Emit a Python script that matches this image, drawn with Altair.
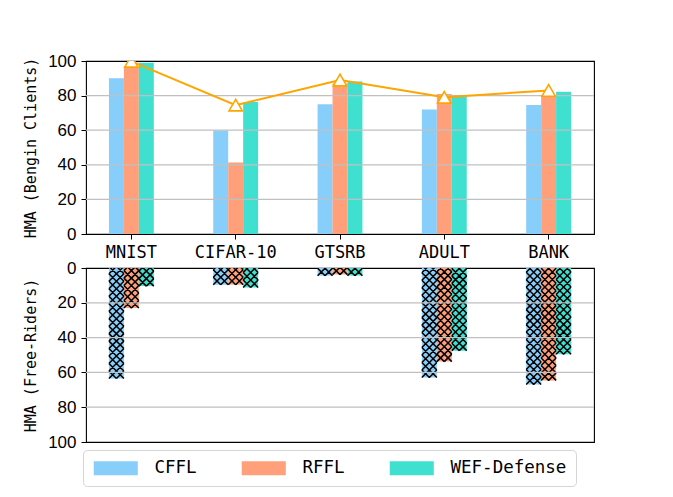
import altair as alt
import pandas as pd

datasets = ["MNIST", "CIFAR-10", "GTSRB", "ADULT", "BANK"]
methods = ["CFFL", "RFFL", "WEF-Defense"]
colors = ["#87CEFA", "#FFA07A", "#40E0D0"]

benign_cffl = [90.0, 59.8, 75.0, 72.0, 74.5]
benign_rffl = [96.3, 41.3, 87.0, 80.9, 79.3]
benign_wef = [99.0, 76.3, 88.2, 80.1, 82.2]
benign_line = [99.8, 74.5, 89.0, 79.0, 83.0]

free_cffl = [63.5, 9.6, 4.4, 62.9, 66.9]
free_rffl = [23.0, 9.6, 3.8, 53.8, 64.6]
free_wef = [10.4, 11.2, 4.4, 47.5, 49.6]

y_ticks = [0, 20, 40, 60, 80, 100]
grid_ticks = [20, 40, 60, 80]


def to_long(a, b, c):
    rows = []
    for m, vals in zip(methods, [a, b, c]):
        for d, v in zip(datasets, vals):
            rows.append({"dataset": d, "method": m, "value": v})
    return pd.DataFrame(rows)


benign = to_long(benign_cffl, benign_rffl, benign_wef)
free = to_long(free_cffl, free_rffl, free_wef)
line_df = pd.DataFrame({"dataset": datasets, "value": benign_line})
grid_df = pd.DataFrame({"tick": grid_ticks})

W, H1, H2 = 508, 173, 174
P_IN, P_OUT = 0.57, 0.22
BW = W / (len(datasets) - P_IN + 2 * P_OUT) * (1 - P_IN) / len(methods)
S = (BW / 2) / (H2 / 100.0)  # hatch cell height in data units

MONO = "DejaVu Sans Mono"
SANS = "Liberation Sans"
HATCH = "M-1,-0.5L0,0.5M0,-0.5L1,0.5M0,0.5L1,-0.5M-1,0.5L0,-0.5"
SWATCH = "M-1,-1L5.29,-1L5.29,1L-1,1Z"

x_scale = alt.Scale(domain=datasets, paddingInner=P_IN, paddingOuter=P_OUT)
xo_scale = alt.Scale(domain=methods, paddingInner=0, paddingOuter=0)
color_enc = alt.Color(
    "method:N",
    sort=methods,
    scale=alt.Scale(domain=methods, range=colors),
    legend=alt.Legend(
        title=None,
        orient="none",
        legendX=-3,
        legendY=389,
        direction="horizontal",
        columns=3,
        symbolType=SWATCH,
        symbolSize=196,
        symbolStrokeWidth=0,
        symbolOpacity=1,
        labelFont=MONO,
        labelFontSize=17.5,
        labelColor="black",
        labelOffset=45,
        labelLimit=0,
        columnPadding=43,
        padding=9,
        strokeColor="#d5d5d5",
        cornerRadius=4,
        fillColor="white",
    ),
)

y_axis = alt.Axis(
    values=y_ticks,
    tickCount=6,
    grid=False,
    domain=False,
    tickSize=5,
    tickColor="black",
    labelFont=SANS,
    labelFontSize=17,
    labelColor="black",
    labelPadding=5,
    labelOverlap=False,
    labelFlush=False,
    titleFont=MONO,
    titleFontSize=15,
    titleFontWeight="normal",
    titleColor="black",
    titlePadding=9,
)
x_axis = alt.Axis(
    labelAngle=0,
    domain=False,
    grid=False,
    tickSize=5,
    tickColor="black",
    labelFont=MONO,
    labelFontSize=17,
    labelColor="black",
    labelPadding=5,
)

T1 = "HMA (Bengin Clients)"
T2 = "HMA (Free-Riders)"

xo = alt.XOffset("method:N", sort=methods, scale=xo_scale)
y1_scale = alt.Scale(domain=[0, 100], nice=False, zero=True)


def xt():
    return alt.X("dataset:N", sort=datasets, scale=x_scale, title=None, axis=x_axis)


def y1(field):
    return alt.Y(field, scale=y1_scale, axis=y_axis, title=T1)


bars1 = alt.Chart(benign).mark_bar().encode(
    x=xt(), xOffset=xo, y=y1("value:Q"), color=color_enc
)
grid1 = alt.Chart(grid_df).mark_rule(color="#c0c0c0", strokeWidth=1.2).encode(
    y=y1("tick:Q")
)
line1 = alt.Chart(line_df).mark_line(color="#FFA500", strokeWidth=2).encode(
    x=xt(), y=y1("value:Q")
)
pts1 = alt.Chart(line_df).mark_point(
    shape="triangle-up", filled=True, fill="white", stroke="#FFA500",
    strokeWidth=1.6, size=180, opacity=1, clip=True,
).encode(x=xt(), y=y1("value:Q"))

top = alt.layer(bars1, grid1, line1, pts1).properties(width=W, height=H1)

y2_scale = alt.Scale(domain=[0, 100], nice=False, reverse=True)
x_bot = alt.X("dataset:N", sort=datasets, scale=x_scale, axis=None)


def y2(field):
    return alt.Y(field, scale=y2_scale, axis=y_axis, title=T2)


bars2 = alt.Chart(free).mark_bar(clip=True).encode(
    x=x_bot, xOffset=xo, y=y2("value:Q"), color=color_enc
)
hatch2 = (
    alt.Chart(free)
    .transform_calculate(k=f"sequence(0, ceil(datum.value / {S}) + 1)")
    .transform_flatten(["k"])
    .transform_calculate(yc=f"datum.value - {S} / 2 - datum.k * {S}")
    .mark_point(shape=HATCH, filled=False, size=BW * BW, strokeWidth=1.5,
                opacity=1, clip=True, color="black")
    .encode(x=x_bot, xOffset=xo, y=y2("yc:Q"))
)
grid2 = alt.Chart(grid_df).mark_rule(color="#c0c0c0", strokeWidth=1.2).encode(
    y=y2("tick:Q")
)

bottom = alt.layer(bars2, hatch2, grid2).properties(width=W, height=H2)

chart = (
    alt.vconcat(top, bottom, spacing=34, bounds="flush")
    .resolve_legend(color="shared")
    .properties(
        padding={"left": 15, "top": 43, "right": 5, "bottom": 5},
        background="white",
    )
    .configure_view(stroke="black", strokeWidth=1.1)
    .configure_axisY(labelOverlap=False)
)

chart.save("out.html", embed_options={"renderer": "svg", "actions": False})
